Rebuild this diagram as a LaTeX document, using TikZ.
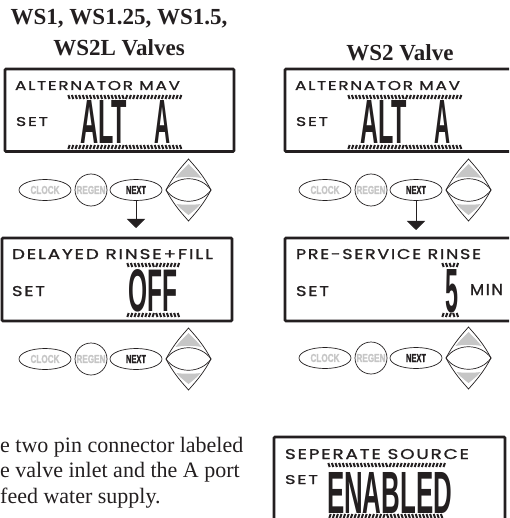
\documentclass[tikz,border=0pt]{standalone}
\usepackage{fontspec}
\usepackage{graphicx}
\setmainfont{Liberation Serif}
\newfontfamily\lcdfont{Poppins}[FakeBold=1,LetterSpace=10]
\newfontfamily\bigfont{Liberation Sans}[BoldFont={Liberation Sans Bold}]
\newfontfamily\keyfont{Liberation Sans Bold}[FakeBold=1.5]
\usetikzlibrary{shapes.geometric,arrows.meta}
\definecolor{ink}{HTML}{231F20}
\definecolor{padgrey}{HTML}{C6C6C6}
\tikzset{
  panel/.style={draw=ink,line width=2.6pt,rounded corners=1pt},
  fit text/.style={inner sep=0pt,outer sep=0pt,anchor=north west,text=ink},
  title text/.style={inner sep=0pt,text=ink,font=\bfseries\fontsize{23}{26}\selectfont,align=center},
  body text/.style={inner sep=0pt,text=ink,anchor=base west,font=\fontsize{22}{25}\selectfont},
  oval key/.style={draw=ink,ellipse,line width=0.7pt,minimum width=52pt,minimum height=21pt,inner sep=0pt},
  round key/.style={draw=ink,circle,line width=0.7pt,minimum size=32pt,inner sep=0pt},
  key dim/.style={inner sep=0pt,text=padgrey},
  key dark/.style={inner sep=0pt,text=ink},
  tick/.style={draw=ink,line width=2pt},
  drop/.style={draw=ink,line width=0.8pt,-{Triangle[width=18pt,length=9pt]}},
}
\newcommand\lcdtext[6]{\node[fit text] (#1) at (#2,#3) {\resizebox{#4pt}{#5pt}{\lcdfont #6}};}
\newcommand\bigtext[6]{\node[fit text] (#1) at (#2,#3) {\resizebox{#4pt}{#5pt}{\bigfont\bfseries #6}};}
\newcommand\tickrow[4]{%
  \pgfmathsetmacro\midx{(#1+#2)/2}%
  \pgfmathsetmacro\xb{#1+3.6}%
  \foreach \t in {#1,\xb,...,#2}{%
    \pgfmathsetmacro\sgn{(\t<\midx ? 1 : -1)*#4}%
    \draw[tick] (\t-0.7*\sgn,#3-2) -- (\t+0.7*\sgn,#3+2);
  }}
\newcommand\keyrow[3]{%
  \node[oval key] (#1clock) at (45+#2,#3) {};
  \node[key dim] at (#1clock) {\resizebox{29pt}{8pt}{\keyfont CLOCK}};
  \node[round key] (#1regen) at (91+#2,#3) {};
  \node[key dim] at (#1regen) {\resizebox{29pt}{8pt}{\keyfont REGEN}};
  \node[oval key] (#1next) at (136+#2,#3) {};
  \node[key dark] at (#1next) {\resizebox{20pt}{8pt}{\keyfont NEXT}};
  \begin{scope}[shift={(188.5+#2,#3)}]
    \fill[padgrey] (0,-26) .. controls (-5,-21) and (-10,-16) .. (-13,-12) .. controls (-6,-13.5) and (6,-13.5) .. (13,-12) .. controls (10,-16) and (5,-21) .. (0,-26) -- cycle;
    \fill[padgrey] (0,25) .. controls (-5,21) and (-10,17) .. (-12,14) .. controls (-6,15) and (6,15) .. (12,14) .. controls (10,17) and (5,21) .. (0,25) -- cycle;
    \draw[ink,line width=0.7pt] (-22.5,0) .. controls (-14,-16) and (-6,-24) .. (0,-31) .. controls (6,-24) and (14,-16) .. (22.5,0) .. controls (14,16) and (6,24) .. (0,31) .. controls (-6,24) and (-14,16) .. (-22.5,0) -- cycle;
    \draw[ink,line width=0.7pt] (-22.5,0) .. controls (-12,-15) and (12,-15) .. (22.5,0) .. controls (12,15) and (-12,15) .. (-22.5,0) -- cycle;
  \end{scope}}
\begin{document}
\begin{tikzpicture}[x=1pt,y=-1pt]
\useasboundingbox (0,0) rectangle (509,518);
\clip (0,0) rectangle (509,518);
\fill[white] (0,0) rectangle (509,518);
\node[title text] (t1) at (119,19) {WS1, WS1.25, WS1.5,};
\node[title text] (t2) at (119,47.5) {WS2L Valves};
\node[title text] (t3) at (400,53) {WS2 Valve};
\draw[panel] (5,69) rectangle (234,151.5);
\lcdtext{a1}{15}{81}{165}{9}{ALTERNATOR MAV}
\lcdtext{a2}{16}{117}{32}{9}{SET}
\bigtext{a3}{80}{100}{47}{43}{ALT}
\bigtext{a4}{154}{100}{16}{43}{A}
\tickrow{69}{181}{97}{1}
\tickrow{69}{181}{147}{-1}
\keyrow{l}{0}{190}
\draw[panel] (2,238) rectangle (232,321);
\lcdtext{b1}{12}{249}{201}{10}{DELAYED RINSE+FILL}
\lcdtext{b2}{12}{286}{33}{10}{SET}
\bigtext{b3}{128}{269}{49}{42}{OFF}
\tickrow{128}{179}{265}{1}
\tickrow{128}{179}{315}{-1}
\keyrow{m}{0}{359}
\coordinate (ldrop) at (136,228);
\draw[drop] (lnext.south) -- (ldrop);
\draw[panel] (285,69) rectangle (515,151.5);
\lcdtext{c1}{295}{81}{165}{9}{ALTERNATOR MAV}
\lcdtext{c2}{296}{117}{32}{9}{SET}
\bigtext{c3}{360}{100}{47}{43}{ALT}
\bigtext{c4}{434}{100}{16}{43}{A}
\tickrow{349}{461}{97}{1}
\tickrow{349}{461}{147}{-1}
\keyrow{r}{280}{190}
\draw[panel] (285,238) rectangle (515,321);
\lcdtext{d1}{296}{249}{185}{10}{PRE-SERVICE RINSE}
\lcdtext{d2}{296}{286}{33}{10}{SET}
\bigtext{d3}{445}{269}{13}{43}{5}
\lcdtext{d4}{470}{284}{33}{11}{MIN}
\tickrow{443}{461}{265}{1}
\tickrow{443}{461}{315}{-1}
\keyrow{s}{280}{358}
\coordinate (rdrop) at (416,230);
\draw[drop] (rnext.south) -- (rdrop);
\node[body text] (p1) at (0,452) {e two pin connector labeled};
\node[body text] (p2) at (0,477.5) {e valve inlet and the A port};
\node[body text] (p3) at (0,503) {feed water supply.};
\draw[panel] (274,437) rectangle (505,530);
\lcdtext{e1}{285}{449}{184}{10}{SEPERATE SOURCE}
\lcdtext{e2}{285}{475}{33}{9}{SET}
\bigtext{e3}{327}{472}{125}{41}{ENABLED}
\tickrow{329}{446}{465}{1}
\tickrow{330}{443}{516}{-1}
\end{tikzpicture}
\end{document}
